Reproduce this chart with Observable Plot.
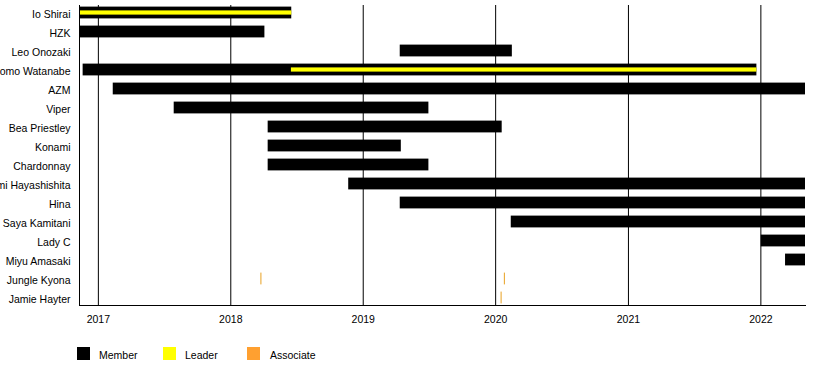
<!DOCTYPE html>
<html>
<head>
<meta charset="utf-8">
<script src="https://cdn.jsdelivr.net/npm/d3@7"></script>
<script src="https://cdn.jsdelivr.net/npm/@observablehq/plot@0.6"></script>
<style>
  body { margin: 0; background: white; font-family: "Liberation Sans", Arial, sans-serif; }
  #chart svg { display: block; overflow: hidden; }
  #legend { position: relative; width: 818px; height: 30px; font-size: 10.5px; color: #000; }
  #legend .sw { position: absolute; top: 12px; width: 13px; height: 13px; }
  #legend .lb { position: absolute; top: 13px; line-height: 15px; }
</style>
</head>
<body>
<div id="chart"></div>
<div id="legend"></div>
<script>
const periodStart = "2016-11-10";
const periodEnd = "2022-05-04";

const names = [
  "Io Shirai", "HZK", "Leo Onozaki", "Momo Watanabe", "AZM", "Viper",
  "Bea Priestley", "Konami", "Chardonnay", "Utami Hayashishita", "Hina",
  "Saya Kamitani", "Lady C", "Miyu Amasaki", "Jungle Kyona", "Jamie Hayter"
];

// [name, start, end]
const memberSpans = [
  ["Io Shirai", periodStart, "2018-06-18"],
  ["HZK", periodStart, "2018-04-05"],
  ["Leo Onozaki", "2019-04-13", "2020-02-16"],
  ["Momo Watanabe", "2016-11-20", "2021-12-21"],
  ["AZM", "2017-02-11", periodEnd],
  ["Viper", "2017-07-29", "2019-07-01"],
  ["Bea Priestley", "2018-04-14", "2020-01-19"],
  ["Konami", "2018-04-14", "2019-04-16"],
  ["Chardonnay", "2018-04-14", "2019-07-01"],
  ["Utami Hayashishita", "2018-11-22", periodEnd],
  ["Hina", "2019-04-13", periodEnd],
  ["Saya Kamitani", "2020-02-13", periodEnd],
  ["Lady C", "2022-01-02", periodEnd],
  ["Miyu Amasaki", "2022-03-10", periodEnd]
];

const leaderSpans = [
  ["Io Shirai", periodStart, "2018-06-18"],
  ["Momo Watanabe", "2018-06-17", "2021-12-21"]
];

// [name, date]
const associateDates = [
  ["Jungle Kyona", "2018-03-25"],
  ["Jungle Kyona", "2020-01-25"],
  ["Jamie Hayter", "2020-01-16"]
];

const yearTicks = ["2017-01-01", "2018-01-01", "2019-01-01", "2020-01-01", "2021-01-01", "2022-01-01"];

const legendItems = [
  ["Member", "#000000"],
  ["Leader", "#ffff00"],
  ["Associate", "#ffa030"]
];

const toSpan = ([name, s, e]) => ({name, start: new Date(s), end: new Date(e)});
const members = memberSpans.map(toSpan);
const leaders = leaderSpans.map(toSpan);
const assoc = associateDates.map(([name, d]) => ({name, date: new Date(d)}));
const ticks = yearTicks.map(d => new Date(d));

const chart = Plot.plot({
  width: 818,
  height: 335,
  marginLeft: 79,
  marginRight: 13,
  marginTop: 5,
  marginBottom: 30,
  style: {fontFamily: "'Liberation Sans', Arial, sans-serif", fontSize: "10.5px", color: "#000", background: "white"},
  x: {type: "utc", domain: [new Date(periodStart), new Date(periodEnd)]},
  y: {type: "band", domain: names, range: [1.4, 308.6], padding: 0},
  marks: [
    Plot.ruleX(ticks, {stroke: "#000", strokeWidth: 1}),
    Plot.barX(members, {x1: "start", x2: "end", y: "name", fill: legendItems[0][1], insetTop: 3.6, insetBottom: 3.6, clip: true}),
    Plot.barX(leaders, {x1: "start", x2: "end", y: "name", fill: legendItems[1][1], insetTop: 7.4, insetBottom: 7.4, clip: true}),
    Plot.tickX(assoc, {x: "date", y: "name", stroke: "#e8a020", strokeWidth: 1, insetTop: 3.6, insetBottom: 3.6}),
    Plot.frame({anchor: "left", stroke: "#000"}),
    Plot.frame({anchor: "bottom", stroke: "#000"}),
    Plot.axisX({ticks: ticks, tickFormat: d3.utcFormat("%Y"), tickSize: 0, tickPadding: 10, label: null}),
    Plot.axisY({tickSize: 0, tickPadding: 9, dy: 1.5, label: null})
  ]
});
document.getElementById("chart").appendChild(chart);

const legend = document.getElementById("legend");
const swatchX = [77, 163, 247];
const labelX = [99, 185, 270];
legendItems.forEach(([label, color], i) => {
  const sw = document.createElement("div");
  sw.className = "sw";
  sw.style.left = swatchX[i] + "px";
  sw.style.background = color;
  legend.appendChild(sw);
  const lb = document.createElement("div");
  lb.className = "lb";
  lb.style.left = labelX[i] + "px";
  lb.textContent = label;
  legend.appendChild(lb);
});
</script>
</body>
</html>
